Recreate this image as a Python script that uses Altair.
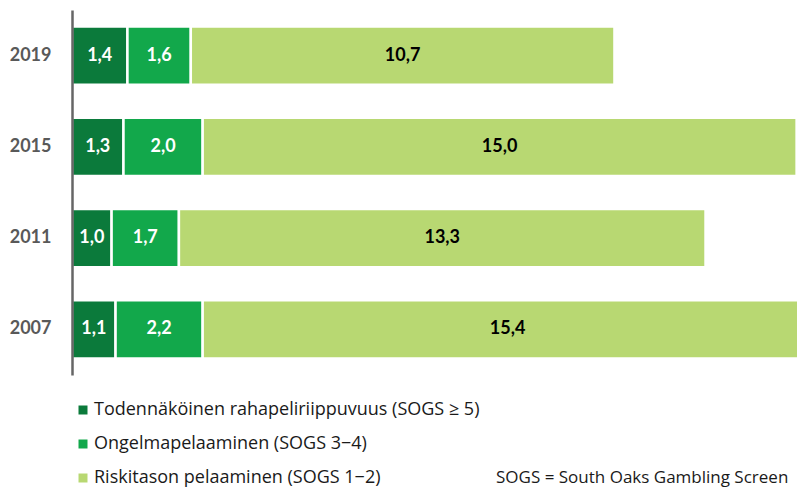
import altair as alt
import pandas as pd

years = ["2019", "2015", "2011", "2007"]
categories = [
    "Todennäköinen rahapeliriippuvuus (SOGS ≥ 5)",
    "Ongelmapelaaminen (SOGS 3−4)",
    "Riskitason pelaaminen (SOGS 1−2)",
]
dependence = [1.4, 1.3, 1.0, 1.1]
problem = [1.6, 2.0, 1.7, 2.2]
risk = [10.7, 15.0, 13.3, 15.4]
colors = ["#0b7a3b", "#12a84b", "#b8d872"]
note_text = "SOGS = South Oaks Gambling Screen"

rows = []
for i, yr in enumerate(years):
    for j, (cat, series) in enumerate(zip(categories, [dependence, problem, risk])):
        rows.append({"year": yr, "category": cat, "order": j, "value": series[i]})
df = pd.DataFrame(rows)

base = alt.Chart(df).transform_stack(
    stack="value", groupby=["year"], as_=["x0", "x1"],
    sort=[alt.SortField(field="order", order="ascending")]
).transform_calculate(
    mid="(datum.x0 + datum.x1) / 2",
    label="replace(format(datum.value, '.1f'), '.', ',')",
)

xscale = alt.Scale(domain=[0, 18.31], nice=False, zero=True)
yenc = alt.Y(
    "year:N", sort=years,
    scale=alt.Scale(paddingInner=0.36, paddingOuter=0.18),
    axis=alt.Axis(title=None, ticks=False, labelFont="Lato", labelFontWeight="bold",
                  labelFontSize=18, labelColor="#595959", labelPadding=21,
                  domainColor="#666666", domainWidth=2.5, grid=False, zindex=1),
)

bars = base.mark_bar(clip=True, stroke="white", strokeWidth=2.5).encode(
    x=alt.X("x0:Q", scale=xscale, axis=None),
    x2="x1:Q",
    y=yenc,
    color=alt.Color(
        "category:N",
        scale=alt.Scale(domain=categories, range=colors),
        legend=alt.Legend(
            title=None, orient="none", legendX=2, legendY=391, direction="vertical",
            symbolType="square", symbolSize=81, symbolStrokeWidth=0,
            labelFont="Open Sans", labelFontSize=18, labelColor="#1a1a1a",
            labelOffset=2, rowPadding=16, padding=0, labelLimit=600,
        ),
    ),
)

labels = base.mark_text(font="Lato", fontWeight="bold", fontSize=18).encode(
    x=alt.X("mid:Q", scale=xscale, axis=None),
    y=alt.Y("year:N", sort=years),
    text="label:N",
    color=alt.condition("datum.order < 2", alt.value("white"), alt.value("black")),
)

note = alt.Chart(pd.DataFrame({"t": [note_text]})).mark_text(
    font="Open Sans", fontSize=17, align="left", baseline="middle", color="#1a1a1a"
).encode(x=alt.value(424), y=alt.value(468), text="t:N")

chart = alt.layer(bars, labels, note).properties(
    width=725, height=365,
    autosize=alt.AutoSizeParams(type="none"),
    padding={"left": 64, "top": 2, "right": 0, "bottom": 113},
).configure_view(stroke=None)

chart.save("out.html", embed_options={"renderer": "svg", "actions": False})
